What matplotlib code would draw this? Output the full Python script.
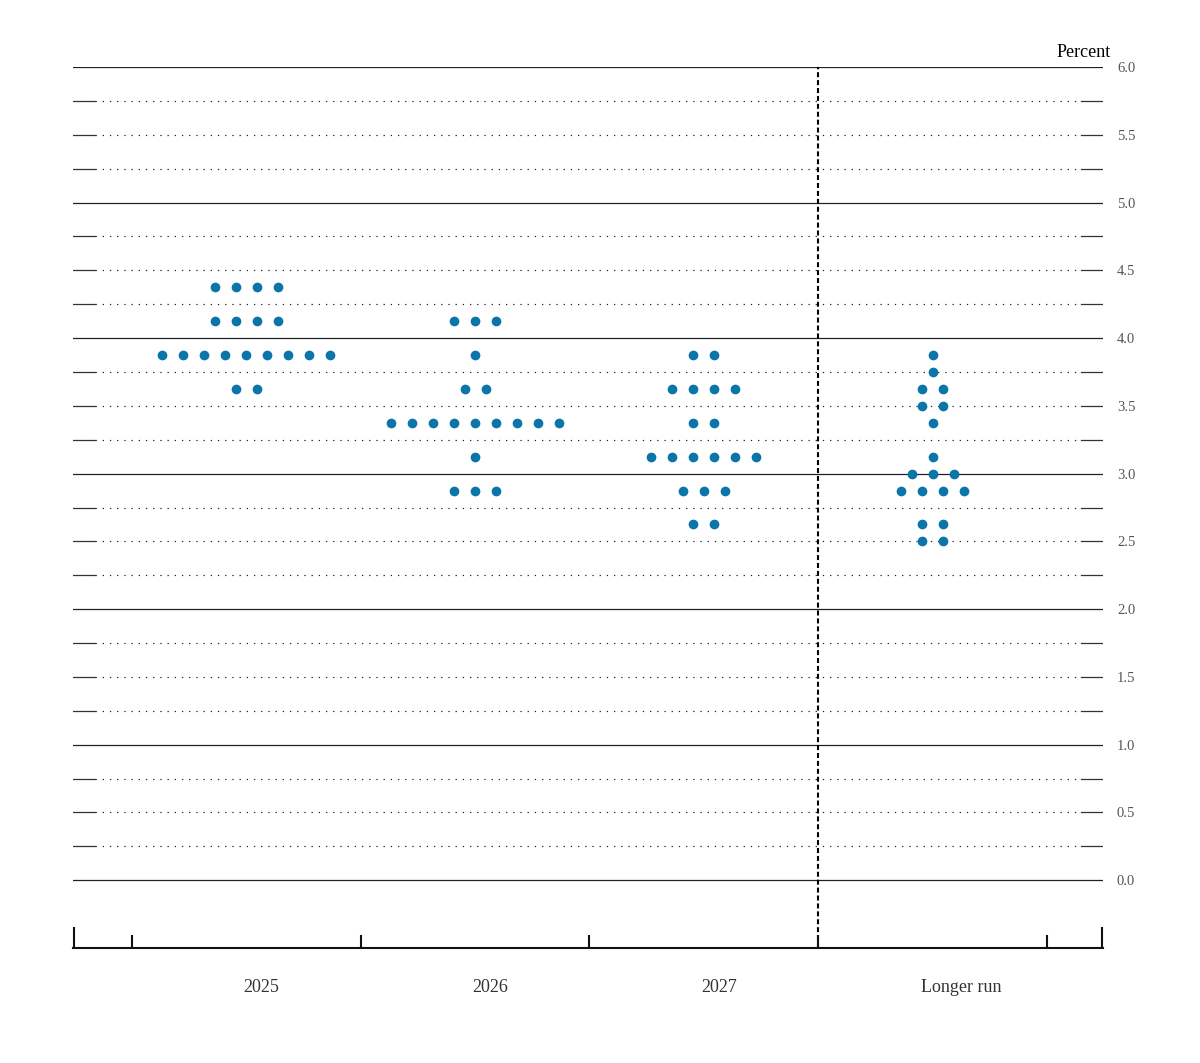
import numpy as np
import matplotlib
matplotlib.use("Agg")
import matplotlib.pyplot as plt

plt.rcParams['font.family'] = ['Liberation Serif', 'DejaVu Serif']

# ---- data ----
categories = ["2025", "2026", "2027", "Longer run"]
# rate levels (percent) and number of participants at each level
rates_2025 = [4.375, 4.125, 3.875, 3.625]
counts_2025 = [4, 4, 9, 2]
rates_2026 = [4.125, 3.875, 3.625, 3.375, 3.125, 2.875]
counts_2026 = [3, 1, 2, 9, 1, 3]
rates_2027 = [3.875, 3.625, 3.375, 3.125, 2.875, 2.625]
counts_2027 = [2, 4, 2, 6, 3, 2]
rates_lr = [3.875, 3.75, 3.625, 3.5, 3.375, 3.125, 3.0, 2.875, 2.625, 2.5]
counts_lr = [1, 1, 2, 2, 1, 1, 3, 4, 2, 2]
y_tick_values = [0.0, 0.5, 1.0, 1.5, 2.0, 2.5, 3.0, 3.5, 4.0, 4.5, 5.0, 5.5, 6.0]

columns = [(rates_2025, counts_2025), (rates_2026, counts_2026),
           (rates_2027, counts_2027), (rates_lr, counts_lr)]

# ---- style / layout ----
DOT_COLOR = "#0b74a9"
DOT_STEP = 0.0918
XMIN, XMAX = -0.758, 3.745
YMIN, YMAX = -0.5, 6.0

fig = plt.figure(figsize=(12, 10.63), dpi=100)
ax = fig.add_axes([73 / 1200, 1 - 948 / 1063, 1030 / 1200, 881 / 1063])
ax.set_xlim(XMIN, XMAX)
ax.set_ylim(YMIN, YMAX)

# horizontal grid lines
end_frac = 22 / 1030
for yv in np.arange(0, 6.001, 0.25):
    if abs(yv - round(yv)) < 1e-9:
        ax.axhline(yv, color="#222222", lw=0.9, zorder=1)
    else:
        ax.axhline(yv, xmin=end_frac, xmax=1 - end_frac, color="#222222",
                   lw=0.85, linestyle=(0, (1.1, 5.0)), zorder=1)
        ax.axhline(yv, xmin=0, xmax=end_frac, color="#333333", lw=0.9, zorder=1)
        ax.axhline(yv, xmin=1 - end_frac, xmax=1, color="#333333", lw=0.9, zorder=1)

# vertical dashed separator before longer run
ax.axvline(2.5, color="black", lw=1.5, linestyle=(0, (2.4, 1.4)), zorder=1)

# dots
for ci, (rates, counts) in enumerate(columns):
    for r, n in zip(rates, counts):
        xs = ci + (np.arange(n) - (n - 1) / 2) * DOT_STEP
        ax.plot(xs, [r] * n, "o", color=DOT_COLOR, markersize=7.0,
                markeredgewidth=0, zorder=3)

# spines
for s in ["top", "left", "right"]:
    ax.spines[s].set_visible(False)
ax.spines["bottom"].set_linewidth(1.5)
ax.spines["bottom"].set_color("#111111")

# x ticks: column boundaries (major) + tall ends (minor)
ax.set_xticks([-0.5, 0.5, 1.5, 2.5, 3.5])
ax.set_xticklabels([])
ax.set_xticks([XMIN + 0.004, XMAX - 0.004], minor=True)
ax.tick_params(axis="x", which="major", direction="in", length=9.5, width=1.5,
               color="#111111")
ax.tick_params(axis="x", which="minor", direction="in", length=15, width=1.5,
               color="#111111")

# y tick labels on the right
ax.yaxis.tick_right()
ax.set_yticks(y_tick_values)
ax.set_yticklabels([f"{v:.1f}" for v in y_tick_values])
ax.tick_params(axis="y", length=0, pad=10, labelsize=10.5, labelcolor="#555555")

# category labels
label_offsets = [15, 15, 15, 29]
for ci, (name, off) in enumerate(zip(categories, label_offsets)):
    ax.annotate(name, xy=(ci, YMIN), xytext=(off * 0.72, -40 * 0.72),
                textcoords="offset points", ha="center", va="center",
                fontsize=13, color="#333333", annotation_clip=False)

fig.text(1111 / 1200, 1 - 57 / 1063, "Percent", ha="right", va="baseline",
         fontsize=13, color="black")

fig.savefig("out.png", dpi=100, facecolor="white")
